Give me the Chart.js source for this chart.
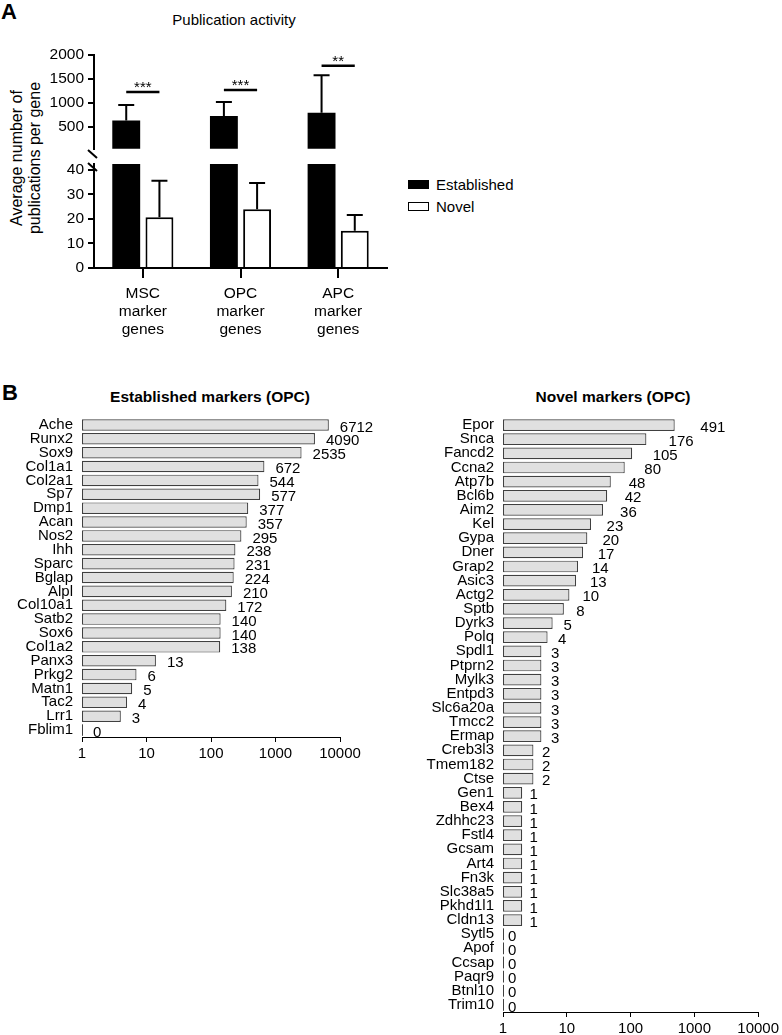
<!DOCTYPE html>
<html lang="en">
  <head>
    <meta charset="UTF-8" />
    <title>Publication activity</title>
    <script src="https://cdn.jsdelivr.net/npm/chart.js@4.4.0/dist/chart.umd.min.js"></script>
    <style>
      body {
        margin: 0;
        width: 782px;
        height: 1035px;
        position: relative;
        overflow: hidden;
        background: #fff;
        font-family: "Liberation Sans", Arial, sans-serif;
        color: #000;
      }
      canvas,
      .txt {
        position: absolute;
      }
      .panel {
        font-weight: bold;
        font-size: 22px;
        line-height: 22px;
      }
      .head {
        width: 300px;
        text-align: center;
        font-size: 15.5px;
        line-height: 18px;
        white-space: nowrap;
      }
      .legend-row {
        position: absolute;
        left: 408px;
        font-size: 15px;
        line-height: 18px;
        white-space: nowrap;
      }
      .legend-row span {
        display: inline-block;
        width: 19px;
        height: 7px;
        border: 1.5px solid #000;
        margin-right: 7px;
        vertical-align: 1px;
      }
    </style>
  </head>
  <body>
    <div class="txt panel" style="left: 1px; top: 1px">A</div>
    <div class="txt head" style="left: 84px; top: 11px; font-size: 15px">Publication activity</div>
    <div
      class="txt head"
      style="left: -124px; top: 140px; transform: rotate(-90deg); width: 300px; font-size: 16px"
    >
      Average number of<br />publications per gene
    </div>
    <canvas id="upper" width="400" height="122" style="left: 0; top: 40px"></canvas>
    <canvas id="lower" width="400" height="200" style="left: 0; top: 146px"></canvas>
    <div id="legend"></div>

    <div class="txt panel" style="left: 2px; top: 382px">B</div>
    <div class="txt head" style="left: 60px; top: 388px; font-weight: bold">Established markers (OPC)</div>
    <div class="txt head" style="left: 463px; top: 388px; font-weight: bold">Novel markers (OPC)</div>
    <canvas id="established" width="390" height="363" style="left: 0; top: 400px"></canvas>
    <canvas id="novel" width="392" height="635" style="left: 390px; top: 400px"></canvas>

    <script>
      // Panel A: mean publications per gene (+ error) for each marker set
      const groupLabels = [
        ["MSC", "marker", "genes"],
        ["OPC", "marker", "genes"],
        ["APC", "marker", "genes"],
      ];
      const seriesNames = ["Established", "Novel"];
      const establishedMean = [635, 732, 797];
      const establishedErr = [322, 289, 784];
      const novelMean = [20.7, 24.0, 15.2];
      const novelErr = [14.9, 10.7, 6.4];
      const sigMarks = ["***", "***", "**"];
      const sigHeight = [1230, 1270, 1775];
      const upperTicks = [500, 1000, 1500, 2000];
      const lowerTicks = [0, 10, 20, 30, 40];

      // Panel B: publication count per marker gene (OPC)
      const establishedGenes = ["Ache", "Runx2", "Sox9", "Col1a1", "Col2a1", "Sp7", "Dmp1", "Acan", "Nos2", "Ihh", "Sparc", "Bglap", "Alpl", "Col10a1", "Satb2", "Sox6", "Col1a2", "Panx3", "Prkg2", "Matn1", "Tac2", "Lrr1", "Fblim1"];
      const establishedCounts = [6712, 4090, 2535, 672, 544, 577, 377, 357, 295, 238, 231, 224, 210, 172, 140, 140, 138, 13, 6, 5, 4, 3, 0];
      const novelGenes = ["Epor", "Snca", "Fancd2", "Ccna2", "Atp7b", "Bcl6b", "Aim2", "Kel", "Gypa", "Dner", "Grap2", "Asic3", "Actg2", "Sptb", "Dyrk3", "Polq", "Spdl1", "Ptprn2", "Mylk3", "Entpd3", "Slc6a20a", "Tmcc2", "Ermap", "Creb3l3", "Tmem182", "Ctse", "Gen1", "Bex4", "Zdhhc23", "Fstl4", "Gcsam", "Art4", "Fn3k", "Slc38a5", "Pkhd1l1", "Cldn13", "Sytl5", "Apof", "Ccsap", "Paqr9", "Btnl10", "Trim10"];
      const novelCounts = [491, 176, 105, 80, 48, 42, 36, 23, 20, 17, 14, 13, 10, 8, 5, 4, 3, 3, 3, 3, 3, 3, 3, 2, 2, 2, 1, 1, 1, 1, 1, 1, 1, 1, 1, 1, 0, 0, 0, 0, 0, 0];
      const logTicks = [1, 10, 100, 1000, 10000];

      const FONT = '"Liberation Sans", Arial, sans-serif';
      Chart.defaults.font.family = FONT;
      Chart.defaults.color = "#000";
      Chart.defaults.animation = false;
      Chart.defaults.events = [];
      Chart.defaults.plugins.legend.display = false;
      Chart.defaults.plugins.tooltip.enabled = false;

      // legend for panel A
      const seriesFill = ["#000", "#fff"];
      document.getElementById("legend").innerHTML = seriesNames
        .map(
          (name, i) =>
            `<div class="legend-row" style="top:${176 + i * 22}px"><span style="background:${seriesFill[i]}"></span>${name}</div>`
        )
        .join("");

      function pubDatasets() {
        return [
          { label: seriesNames[0], data: establishedMean, err: establishedErr, backgroundColor: "#000", borderWidth: 0, clip: 0 },
          { label: seriesNames[1], data: novelMean, err: novelErr, backgroundColor: "#fff", borderColor: "#000", borderWidth: 2, clip: 0 },
        ];
      }

      // upward error bars, only where the mean falls inside this chart's y range
      const errorBars = {
        id: "errorBars",
        afterDatasetsDraw(chart) {
          const { ctx } = chart;
          const y = chart.scales.y;
          ctx.save();
          ctx.strokeStyle = "#000";
          ctx.lineWidth = 2;
          chart.data.datasets.forEach((ds, i) => {
            chart.getDatasetMeta(i).data.forEach((bar, j) => {
              const m = ds.data[j];
              const top = m + ds.err[j];
              if (m < y.min || m > y.max) return;
              const y0 = y.getPixelForValue(m);
              const y1 = y.getPixelForValue(Math.min(top, y.max));
              ctx.beginPath();
              ctx.moveTo(bar.x, y0);
              ctx.lineTo(bar.x, y1);
              if (top <= y.max) {
                ctx.moveTo(bar.x - 8, y1);
                ctx.lineTo(bar.x + 8, y1);
              }
              ctx.stroke();
            });
          });
          ctx.restore();
        },
      };

      const sigBars = {
        id: "sigBars",
        afterDatasetsDraw(chart) {
          const { ctx } = chart;
          const y = chart.scales.y;
          const a = chart.getDatasetMeta(0).data;
          const b = chart.getDatasetMeta(1).data;
          ctx.save();
          ctx.strokeStyle = "#000";
          ctx.fillStyle = "#000";
          ctx.lineWidth = 2.5;
          ctx.font = "15px " + FONT;
          ctx.textAlign = "center";
          ctx.textBaseline = "alphabetic";
          sigMarks.forEach((mark, j) => {
            const py = y.getPixelForValue(sigHeight[j]);
            ctx.beginPath();
            ctx.moveTo(a[j].x, py);
            ctx.lineTo(b[j].x, py);
            ctx.stroke();
            ctx.fillText(mark, (a[j].x + b[j].x) / 2, py);
          });
          ctx.restore();
        },
      };

      // the two slashes of the broken y axis
      const axisBreak = {
        id: "axisBreak",
        afterDraw(chart) {
          const { ctx } = chart;
          const { left, top } = chart.chartArea;
          ctx.save();
          ctx.strokeStyle = "#000";
          ctx.lineWidth = 2;
          ctx.beginPath();
          ctx.moveTo(left - 6, top - 14);
          ctx.lineTo(left + 3, top - 6);
          ctx.moveTo(left - 6, top - 1);
          ctx.lineTo(left + 3, top + 7);
          ctx.stroke();
          ctx.restore();
        },
      };

      function yAxis(min, max, tickList) {
        return {
          min: min,
          max: max,
          afterBuildTicks: (s) => {
            s.ticks = tickList.map((v) => ({ value: v }));
          },
          afterFit: (s) => {
            s.width = 94;
          },
          border: { color: "#000", width: 2 },
          grid: { drawOnChartArea: false, tickLength: 6, color: "#000", lineWidth: 2 },
          ticks: { font: { size: 15.5 }, padding: 4, callback: (v) => String(v) },
        };
      }

      const barSizing = { bar: { categoryPercentage: 0.68, barPercentage: 0.84 } };

      new Chart(document.getElementById("upper"), {
        type: "bar",
        data: { labels: groupLabels, datasets: pubDatasets() },
        options: {
          responsive: false,
          layout: { padding: { top: 15, right: 13, bottom: 6, left: 0 } },
          datasets: barSizing,
          scales: {
            x: { display: false },
            y: yAxis(50, 2000, upperTicks),
          },
        },
        plugins: [errorBars, sigBars],
      });

      new Chart(document.getElementById("lower"), {
        type: "bar",
        data: { labels: groupLabels, datasets: pubDatasets() },
        options: {
          responsive: false,
          layout: { padding: { top: 18, right: 13, bottom: 0, left: 0 } },
          datasets: barSizing,
          scales: {
            x: {
              afterFit: (s) => {
                s.height = 78;
              },
              border: { color: "#000", width: 2 },
              grid: { offset: false, drawOnChartArea: false, tickLength: 10, color: "#000", lineWidth: 2 },
              ticks: { font: { size: 15.5, lineHeight: 1.16 }, padding: 7, maxRotation: 0, autoSkip: false },
            },
            y: yAxis(0, 42.4, lowerTicks),
          },
        },
        plugins: [errorBars, axisBreak],
      });

      // count labels next to each bar; zero counts get a thin stub at the axis
      function valueLabels(counts, gap, slope) {
        return {
          id: "valueLabels",
          afterDatasetsDraw(chart) {
            const { ctx } = chart;
            const x0 = chart.scales.x.getPixelForValue(1);
            ctx.save();
            ctx.font = "15px " + FONT;
            ctx.fillStyle = "#000";
            ctx.strokeStyle = "#404040";
            ctx.lineWidth = 1;
            ctx.textBaseline = "middle";
            chart.getDatasetMeta(0).data.forEach((bar, i) => {
              const len = bar.x - x0;
              if (counts[i] === 0) {
                ctx.beginPath();
                ctx.moveTo(x0 + 0.5, bar.y - bar.height / 2);
                ctx.lineTo(x0 + 0.5, bar.y + bar.height / 2);
                ctx.stroke();
              }
              ctx.fillText(String(counts[i]), bar.x + gap + slope * len, bar.y + 2.5);
            });
            ctx.restore();
          },
        };
      }

      function markerChart(id, genes, counts, opts) {
        return new Chart(document.getElementById(id), {
          type: "bar",
          data: {
            labels: genes,
            datasets: [
              {
                data: counts.map((v) => v + 1),
                backgroundColor: "#e0e0e0",
                borderColor: "#404040",
                borderWidth: 1.2,
                borderSkipped: false,
                barPercentage: 0.83,
                categoryPercentage: 1,
              },
            ],
          },
          options: {
            indexAxis: "y",
            responsive: false,
            layout: { padding: opts.padding },
            scales: {
              x: {
                type: "logarithmic",
                min: 1,
                max: 10000,
                afterBuildTicks: (s) => {
                  s.ticks = logTicks.map((v) => ({ value: v }));
                },
                afterFit: (s) => {
                  s.height = opts.xHeight;
                },
                border: { color: "#000", width: 1 },
                grid: { drawOnChartArea: false, tickLength: 5, color: "#000", lineWidth: 1 },
                ticks: { callback: (v) => String(v), font: { size: 15 }, padding: 3, maxRotation: 0, autoSkip: false },
              },
              y: {
                afterFit: (s) => {
                  s.width = opts.yWidth;
                },
                border: { display: false },
                grid: { display: false, drawTicks: false },
                ticks: { font: { size: 15 }, padding: 9, autoSkip: false },
              },
            },
          },
          plugins: [valueLabels(counts, opts.gap, opts.slope)],
        });
      }

      markerChart("established", establishedGenes, establishedCounts, {
        padding: { top: 6, right: 50, bottom: 0, left: 0 },
        xHeight: 26,
        yWidth: 82,
        gap: 11,
        slope: 0,
      });
      markerChart("novel", novelGenes, novelCounts, {
        padding: { top: 7, right: 20, bottom: 0, left: 0 },
        xHeight: 23,
        yWidth: 113,
        gap: 5,
        slope: 0.12,
      });
    </script>
  </body>
</html>
